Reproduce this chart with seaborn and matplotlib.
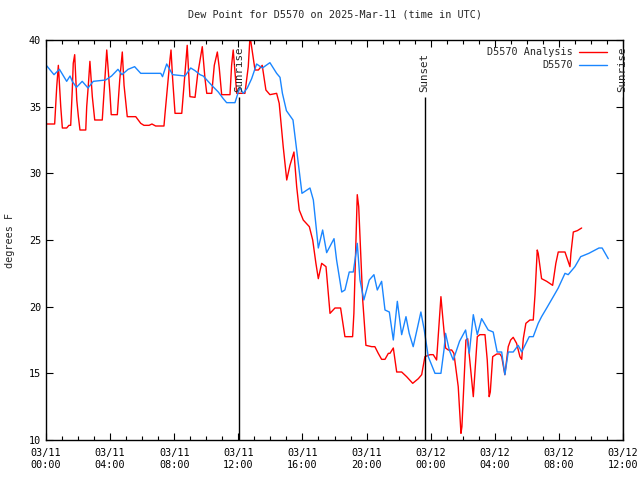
import pandas as pd
import matplotlib
matplotlib.use("Agg")
import matplotlib.pyplot as plt
import matplotlib.dates as mdates
import seaborn as sns

# Hours after 2025-03-11 00:00 UTC and dew point (F)
obs_hours = [0.04, 0.50, 0.84, 1.29, 1.50, 1.64, 1.90, 2.26, 2.62, 2.95,
             3.72, 4.09, 4.49, 4.74, 5.12, 5.53, 5.91, 7.16, 7.27, 7.53,
             7.90, 8.67, 9.03, 9.30, 9.61, 9.81, 10.34, 10.75, 11.06, 11.27,
             11.79, 12.00, 12.10, 12.31, 12.56, 12.83, 13.14, 13.50, 13.97, 14.39,
             14.60, 14.75, 15.00, 15.41, 15.64, 15.97, 16.47, 16.68, 16.99, 17.26,
             17.51, 17.97, 18.13, 18.45, 18.65, 18.92, 19.17, 19.34, 19.42, 19.59,
             19.83, 20.17, 20.46, 20.67, 20.94, 21.15, 21.42, 21.67, 21.92, 22.19,
             22.46, 22.66, 22.91, 23.19, 23.39, 23.60, 23.85, 24.27, 24.64, 24.83,
             24.93, 25.16, 25.41, 25.80, 26.18, 26.41, 26.66, 26.91, 27.18, 27.59,
             27.90, 28.15, 28.43, 28.63, 28.84, 29.15, 29.46, 29.68, 30.15, 30.40,
             30.71, 30.92, 31.24, 31.65, 31.96, 32.38, 32.58, 33.00, 33.36, 33.87,
             34.50, 34.70, 35.08]
obs_dewpt = [38.07, 37.4, 37.8, 36.9, 37.3, 36.9, 36.45, 36.9, 36.4, 36.9,
             37.0, 37.3, 37.8, 37.4, 37.8, 38.0, 37.5, 37.5, 37.25, 38.2,
             37.4, 37.3, 37.9, 37.7, 37.4, 37.3, 36.6, 36.1, 35.6, 35.3,
             35.3, 36.1, 36.4, 36.0, 36.4, 37.1, 38.2, 37.9, 38.3, 37.5,
             37.2, 36.0, 34.7, 34.0, 31.75, 28.5, 28.9, 28.0, 24.4, 25.75,
             24.05, 25.1, 23.5, 21.1, 21.25, 22.6, 22.6, 24.0, 24.75, 22.0,
             20.5, 22.0, 22.4, 21.25, 21.9, 19.75, 19.6, 17.5, 20.4, 17.9,
             19.25, 18.0, 17.0, 18.5, 19.6, 18.25, 16.25, 15.0, 15.0, 16.75,
             18.0, 16.75, 16.0, 17.4, 18.25, 16.5, 19.4, 17.9, 19.1, 18.25,
             18.1, 16.6, 16.6, 14.9, 16.6, 16.6, 17.1, 16.6, 17.75, 17.75,
             18.75, 19.25, 19.9, 20.75, 21.4, 22.5, 22.4, 23.0, 23.75, 24.0,
             24.4, 24.4, 23.6]

ana_hours = [0.04, 0.54, 0.67, 0.77, 0.92, 1.02, 1.29, 1.43, 1.54, 1.64,
             1.70, 1.79, 1.92, 2.02, 2.12, 2.48, 2.54, 2.64, 2.74, 2.89,
             3.04, 3.51, 3.57, 3.68, 3.79, 3.99, 4.07, 4.45, 4.60, 4.76,
             4.87, 5.07, 5.60, 5.91, 6.11, 6.43, 6.61, 6.84, 7.36, 7.42,
             7.74, 7.80, 7.90, 8.05, 8.47, 8.73, 8.81, 8.98, 9.30, 9.46,
             9.75, 9.92, 10.03, 10.34, 10.50, 10.69, 10.81, 10.96, 11.48, 11.58,
             11.68, 11.90, 12.41, 12.62, 12.73, 12.89, 13.04, 13.25, 13.49, 13.72,
             13.97, 14.39, 14.55, 14.74, 14.80, 15.02, 15.22, 15.47, 15.64, 15.80,
             16.05, 16.43, 16.64, 16.84, 16.99, 17.20, 17.47, 17.72, 18.03, 18.38,
             18.65, 19.13, 19.21, 19.42, 19.51, 19.76, 19.96, 20.32, 20.52, 20.73,
             20.94, 21.15, 21.36, 21.46, 21.67, 21.88, 22.19, 22.50, 22.88, 23.23,
             23.44, 23.64, 23.96, 24.16, 24.37, 24.64, 24.75, 24.93, 25.10, 25.31,
             25.45, 25.72, 25.89, 25.95, 26.20, 26.31, 26.66, 26.91, 27.07, 27.39,
             27.53, 27.65, 27.72, 27.87, 28.12, 28.32, 28.43, 28.63, 28.84, 28.99,
             29.15, 29.36, 29.57, 29.68, 29.78, 29.94, 30.19, 30.40, 30.51, 30.65,
             30.71, 30.92, 31.24, 31.61, 31.81, 31.96, 32.38, 32.58, 32.69, 32.75,
             32.90, 33.15, 33.42]
ana_dewpt = [33.7, 33.7, 36.5, 38.1, 35.0, 33.4, 33.4, 33.6, 33.6, 36.25,
             38.25, 38.9, 35.5, 34.25, 33.25, 33.25, 35.0, 36.6, 38.4, 35.75,
             34.0, 34.0, 35.1, 37.1, 39.25, 36.0, 34.4, 34.4, 37.0, 39.1,
             36.6, 34.25, 34.25, 33.75, 33.6, 33.6, 33.7, 33.55, 33.55, 34.4,
             38.6, 39.25, 37.1, 34.5, 34.5, 38.4, 39.6, 35.75, 35.7, 37.4,
             39.5, 37.1, 36.0, 36.0, 38.1, 39.1, 37.9, 35.9, 35.9, 38.1,
             39.25, 36.0, 36.0, 38.0, 40.3, 39.0, 37.75, 37.75, 38.1, 36.25,
             35.9, 36.0, 35.25, 32.75, 32.0, 29.5, 30.6, 31.6, 29.0, 27.25,
             26.5, 26.0, 25.0, 23.25, 22.1, 23.25, 23.0, 19.5, 19.9, 19.9,
             17.75, 17.75, 19.5, 28.4, 27.5, 20.5, 17.1, 17.0, 17.0, 16.5,
             16.05, 16.05, 16.5, 16.5, 16.9, 15.1, 15.1, 14.75, 14.25, 14.6,
             14.9, 16.25, 16.4, 16.4, 16.0, 20.75, 19.25, 16.9, 16.75, 16.75,
             16.5, 14.0, 10.5, 11.0, 17.5, 17.6, 13.25, 17.75, 17.9, 17.9,
             16.0, 13.25, 13.6, 16.25, 16.45, 16.45, 16.25, 14.9, 17.0, 17.5,
             17.7, 17.25, 16.25, 16.05, 17.6, 18.75, 19.0, 19.0, 20.9, 24.25,
             24.0, 22.1, 21.9, 21.6, 23.25, 24.1, 24.1, 23.4, 23.0, 24.0,
             25.6, 25.7, 25.9]

# Sun events (hours after start)
sun_labels = ["Sunrise", "Sunset", "Sunrise"]
sun_hours = [12.04, 23.62, 35.97]

start = pd.Timestamp("2025-03-11 00:00")
obs = pd.DataFrame({"time": start + pd.to_timedelta(obs_hours, unit="h"), "dewpt": obs_dewpt})
ana = pd.DataFrame({"time": start + pd.to_timedelta(ana_hours, unit="h"), "dewpt": ana_dewpt})

sns.set_style("ticks")
plt.rcParams["font.family"] = ["DejaVu Sans Mono"]
fs = 7.3

fig = plt.figure(figsize=(6.4, 4.8), dpi=100)
ax = fig.add_axes([46 / 640, 40 / 480, 577 / 640, 400 / 480])

sns.lineplot(data=ana, x="time", y="dewpt", color="#ff0000", lw=1.0,
             label="D5570 Analysis", estimator=None, ax=ax)
sns.lineplot(data=obs, x="time", y="dewpt", color="#1a86ff", lw=1.0,
             label="D5570", estimator=None, ax=ax)

# Sunrise / sunset markers
for name, h in zip(sun_labels, sun_hours):
    t = start + pd.Timedelta(hours=h)
    ax.vlines(t, 10, 35.7, color="black", lw=1.0)
    ax.text(t, 36.1, name, rotation=90, ha="center", va="bottom",
            fontsize=7.8, clip_on=False)

ax.set_xlim(start, start + pd.Timedelta(hours=36))
ax.set_ylim(10, 40)
ax.set_yticks(range(10, 41, 5))
ax.xaxis.set_major_locator(mdates.HourLocator(byhour=range(0, 24, 4)))
ax.xaxis.set_minor_locator(mdates.HourLocator())
ax.xaxis.set_major_formatter(mdates.DateFormatter("%m/%d\n%H:%M"))

ax.tick_params(which="both", direction="in", top=True, right=True,
               labelsize=fs, colors="black", width=0.8)
ax.tick_params(which="major", length=5)
ax.tick_params(which="minor", length=3)
ax.tick_params(axis="x", pad=6)
for s in ax.spines.values():
    s.set_linewidth(1.0)
    s.set_color("black")

ax.set_xlabel("")
ax.set_ylabel("degrees F", fontsize=fs, labelpad=10)
ax.set_title("Dew Point for D5570 on 2025-Mar-11 (time in UTC)", fontsize=fs, pad=16)

ax.legend(loc="upper right", bbox_to_anchor=(0.985, 1.0), frameon=False,
          markerfirst=False, fontsize=fs, handlelength=2.8,
          handletextpad=0.6, labelspacing=0.3, borderaxespad=0.3)

fig.savefig("out.png", dpi=100)
